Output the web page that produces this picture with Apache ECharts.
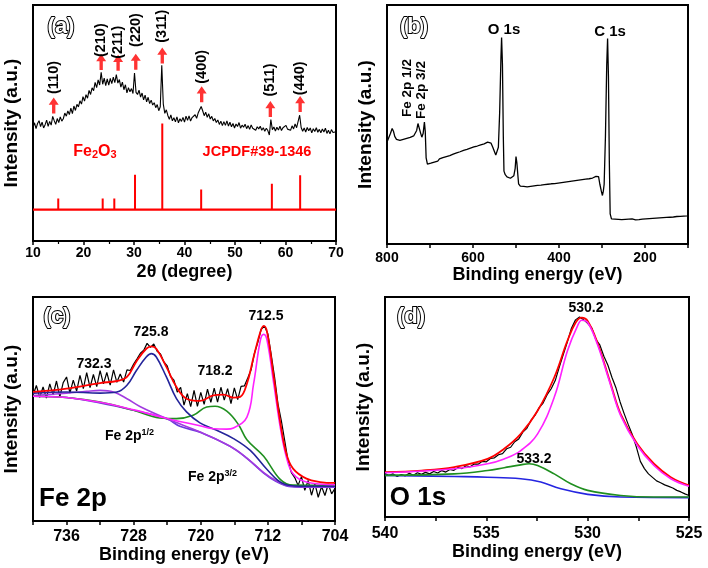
<!DOCTYPE html>
<html><head><meta charset="utf-8">
<script src="https://cdn.jsdelivr.net/npm/echarts@6/dist/echarts.min.js"></script>
<style>html,body{margin:0;padding:0;background:#fff}#c{width:708px;height:568px}</style>
</head><body><div id="c"></div>
<script>
// ---------- (a) XRD ----------
const xrdStart = 10, xrdStep = 0.3;
const xrdIntensity = [
48.2,50.1,47.6,49.8,51.0,48.5,50.4,47.9,49.3,51.2,
48.6,50.7,49.1,52.8,51.0,49.4,51.9,50.2,52.6,50.8,
51.8,54.2,52.9,55.1,53.6,56.3,54.0,57.2,55.3,57.9,
56.8,59.4,58.0,61.2,59.3,62.0,60.5,63.8,62.1,64.9,
63.7,67.2,65.0,68.3,66.1,71.5,66.4,69.0,65.8,68.7,
66.0,68.9,66.7,69.4,67.1,70.5,66.9,68.4,65.2,67.3,
64.1,66.2,62.8,65.0,63.2,64.6,62.5,71.2,63.0,62.1,
63.9,61.0,62.7,59.8,61.8,59.0,60.9,58.2,59.7,57.6,
58.6,56.5,57.8,55.2,56.9,74.5,58.0,54.1,55.6,53.2,
51.6,53.4,50.9,52.2,50.5,52.6,50.1,51.8,50.7,52.4,
50.4,52.9,51.1,53.0,50.8,52.3,51.6,53.5,52.0,54.2,
54.8,57.0,55.2,53.1,54.6,52.4,53.9,51.7,52.8,50.9,
51.9,50.2,51.3,49.4,50.8,48.9,50.6,49.0,50.9,48.7,
50.3,48.4,49.8,47.9,49.6,48.5,50.2,47.8,49.1,48.2,
49.5,47.6,48.9,47.3,49.2,47.8,48.6,46.9,48.4,47.5,
48.6,46.9,48.0,46.5,47.8,46.8,44.9,51.5,47.2,48.3,
46.6,48.2,47.0,48.6,46.8,48.0,47.3,49.0,47.4,48.1,
46.9,48.8,47.5,49.6,48.0,50.7,53.3,48.1,46.5,47.9,
46.2,48.1,46.7,47.9,45.8,47.6,46.4,48.0,46.1,47.3,
45.9,47.5,46.2,47.8,45.6,46.9,45.4,47.2,46.0,46.8,
46.3];
const refPeak2Theta = [15.0, 23.8, 26.1, 30.2, 35.6, 43.3, 57.3, 62.9];
const refPeakTop    = [18.0, 18.0, 18.0, 28.1, 49.8, 21.8, 24.3, 27.9];
const refBaseline = 13.3;
const hklLabels = ['(110)','(210)','(211)','(220)','(311)','(400)','(511)','(440)'];
const hklArrow2Theta = [14.1, 23.5, 26.85, 30.35, 35.6, 43.4, 57.0, 62.9];
const hklArrowY = [57.4, 75.8, 75.5, 76.0, 78.6, 62.2, 55.9, 58.0];
const hklLabelY = [69.3, 85.1, 84.2, 89.4, 91.0, 73.8, 68.2, 68.9];

// ---------- (b) XPS survey ----------
const surveyBE = [800,796,792,788,785,782,778,774,770,766,762,758,754,750,746,742,738,734,731,728,725,722,719,716,713,711,709,706,702,698,694,690,686,682,678,674,670,666,662,658,654,650,646,642,638,634,630,626,622,618,614,610,606,602,598,594,590,586,582,578,574,570,566,562,558,554,550,547,544,541,538,535,533.5,531.5,529.5,528,525,521,517,513,509,505,502,500,498,496,494,490,486,482,478,474,470,466,462,458,454,450,446,442,438,434,430,426,422,418,414,410,406,402,398,394,390,386,382,378,374,370,366,362,358,354,350,346,342,338,334,330,326,322,318,314,311,308,305,302,299,297,295,292,289,287,285,283,281,278,274,270,266,262,258,254,250,246,242,238,234,230,226,222,218,214,210,206,202,198,194,190,186,182,178,174,170,166,162,158,154,150,146,142,138,134,130,126,122,118,114,110,106,102,100];
const surveyI = [42.7,44.5,46.2,48.3,47.2,45.0,43.8,43.2,43.4,42.9,43.8,43.4,44.2,43.9,44.6,44.3,45.2,46.0,47.5,50.4,49.8,46.5,44.7,46.2,51.0,47.0,36.0,33.4,34.1,33.8,34.6,34.3,35.0,34.7,35.6,35.3,36.1,35.8,36.6,36.2,37.0,36.8,37.6,37.3,38.1,37.9,38.6,38.4,39.2,38.9,39.6,39.4,40.1,39.8,40.6,40.3,41.0,40.8,41.5,41.3,41.9,41.8,42.6,42.9,42.2,40.5,38.6,37.2,37.0,40.5,55.0,78.0,86.4,75.0,45.0,30.5,29.0,28.1,27.8,27.5,27.6,28.6,31.5,36.6,34.0,29.5,25.2,24.2,24.5,24.1,24.3,23.9,24.4,24.1,24.6,24.3,24.8,24.5,24.9,24.6,25.1,24.8,25.3,25.0,25.4,25.2,25.6,25.3,25.8,25.5,26.0,25.7,26.1,25.9,26.4,26.1,26.5,26.3,26.8,26.5,26.9,26.7,27.2,26.9,27.3,27.1,27.5,27.3,27.7,27.6,28.0,28.3,28.9,28.2,25.0,22.5,20.3,22.0,25.0,45.0,75.0,86.0,70.0,35.0,12.6,10.5,10.2,10.4,10.0,10.3,9.9,10.2,10.0,10.3,10.1,10.4,10.2,10.5,10.3,10.1,10.4,10.2,10.6,10.4,10.7,10.5,10.8,10.6,10.9,10.7,11.0,10.8,11.1,10.9,11.2,11.0,11.3,11.1,11.4,11.2,11.5,11.3,11.6,11.5,11.7,11.6,11.8,11.7,11.9,11.8,11.9];

// ---------- (c) Fe 2p ----------
const fe2pStart = 740, fe2pStep = -0.4;
const fe2pMeasured = [
56.0,60.5,55.2,59.8,54.9,61.2,56.3,62.5,55.4,61.8,
64.3,57.1,62.9,58.0,65.0,59.1,66.2,59.6,65.4,60.0,
67.1,61.2,66.3,60.7,67.5,61.9,65.6,62.0,67.5,67.2,
70.1,72.4,74.9,76.2,79.3,77.5,79.0,75.8,74.6,71.0,
69.2,64.5,62.9,57.5,59.7,51.7,56.9,51.1,58.3,51.2,
57.4,52.1,58.9,53.0,59.3,53.1,59.7,54.0,59.1,52.4,
59.4,54.2,60.1,60.3,63.8,67.5,74.9,79.8,85.6,87.0,
83.5,74.2,64.1,52.3,44.8,36.0,26.9,21.6,19.4,15.9,
19.8,13.7,18.1,11.5,16.8,10.6,15.4,11.4,16.5,12.1,
14.6];
const fe2pEnvelope = [[740,57.6],[736,59.1],[732,61.6],[730,62.5],[728.8,64.3],[727.6,71.7],[726.5,76.9],[725.9,78.0],[725.3,76.9],[724.1,68.8],[722.9,59.8],[721.7,54.6],[720.1,53.6],[718.5,56.1],[717.3,56.4],[716.1,55.1],[715.3,55.4],[714.5,61.3],[713.7,73.2],[712.9,84.4],[712.5,87.1],[712.1,84.4],[711.3,64.3],[710.5,43.5],[709.8,30.1],[709.0,23.4],[707.4,18.9],[705.8,17.4],[704,17.0]];
const fe2pPeak712 = [[740,55.7],[736,55.1],[732,53.0],[728,49.6],[724,45.8],[720.1,42.5],[718.5,41.2],[716.9,41.0],[716.1,41.5],[714.5,46.4],[713.7,61.3],[712.9,80.7],[712.5,83.3],[712.1,80.7],[711.3,61.3],[710.5,41.2],[709.8,28.6],[709.0,21.1],[707.4,17.4],[704,16.2]];
const fe2pPeak726 = [[740,57.1],[736,57.6],[732,57.1],[730,57.6],[728.8,60.6],[727.65,67.3],[726.5,73.2],[725.9,74.7],[725.3,73.2],[724.1,64.3],[722.9,54.6],[721.7,48.7],[720.1,43.8],[718.1,40.5],[716.1,36.8],[714.1,31.5],[712.1,23.0],[710.2,16.7],[708.2,15.5],[704,15.5]];
const fe2pPeak732 = [[740,56.0],[736,57.1],[733.6,57.9],[732,58.3],[730.4,57.6],[728.8,54.6],[727.2,51.0],[724,45.6],[720,39.6],[716.5,33.4],[714.5,28.1],[712.5,21.6],[711,18.0],[709.5,15.7],[708,15.3],[704,15.3]];
const fe2pPeak718 = [[740,55.7],[736,55.1],[732,53.1],[728,49.4],[724.9,46.0],[722.9,45.7],[720.9,47.2],[719.3,50.9],[718.3,51.2],[716.9,49.0],[715.5,43.0],[714.5,36.3],[712.5,28.9],[710.5,18.5],[709,16.0],[704,15.9]];
const fe2pBackground = [[740,55.7],[736,55.1],[732,52.7],[728,49.4],[724,45.5],[722.5,42.3],[720,39.5],[716.5,33.3],[714.5,28.0],[712.5,21.4],[711,17.6],[709.5,15.4],[708,15.1],[704,15.1]];

// ---------- (d) O 1s ----------
const o1sStart = 540, o1sStep = -0.2;
const o1sMeasured = [
19.8,18.9,19.6,18.4,19.3,18.7,19.9,19.0,20.1,19.4,
20.3,19.6,20.7,20.0,21.1,20.4,21.6,21.2,22.5,22.0,
23.3,22.8,24.1,24.0,25.3,25.1,26.6,26.9,28.3,28.8,
31.0,31.7,34.2,35.5,38.6,40.3,43.9,46.2,49.6,51.8,
55.6,58.3,62.0,68.1,73.9,79.6,85.8,89.6,90.9,89.7,
88.0,85.9,80.8,78.2,73.1,69.0,63.4,58.6,52.3,47.0,
42.1,37.5,31.9,25.3,22.0,19.6,18.0,16.4,15.6,14.6,
13.9,13.2,12.1,11.4,10.5,9.8];
const o1sEnvelope = [[540,20.4],[538.2,21.1],[536.58,22.7],[534.94,26.4],[534.12,31.0],[533.3,37.8],[532.47,48.3],[531.65,63.4],[531,80.1],[530.59,88.4],[530.29,90.6],[530,89.1],[529.52,79.3],[528.86,60.4],[528.37,46.8],[527.55,33.2],[526.73,24.2],[525.9,18.1],[525,14.4]];
const o1sPeak530 = [[540,20.1],[536.58,21.9],[534.94,24.2],[534.12,26.4],[533.3,30.2],[532.47,37.8],[531.65,54.4],[531,75.5],[530.5,86.9],[530.29,89.4],[530,88.4],[529.52,78.5],[528.86,59.7],[528.37,46.1],[527.55,32.5],[526.73,23.4],[525.9,17.4],[525,14.0]];
const o1sPeak533 = [[540,18.9],[536.58,19.6],[534.94,21.1],[534.12,22.4],[533.3,23.7],[532.89,24.2],[532.47,23.4],[531.65,19.6],[530.83,15.1],[530,12.1],[528.37,9.8],[526.73,9.1],[525,9.1]];
const o1sBackground = [[540,18.9],[536.58,18.4],[534.94,18.1],[533.3,17.4],[532.31,15.9],[531.32,12.8],[530,10.3],[528.37,9.1],[525,8.8]];

// ---------- build ----------
const FONT = 'Arial, "Liberation Sans", Helvetica, sans-serif';
const xrdData = xrdIntensity.map((v, i) => [+(xrdStart + i * xrdStep).toFixed(2), v]);
const stickData = [];
refPeak2Theta.forEach((x, i) => { stickData.push([x, refBaseline], [x, refPeakTop[i]], [x, '-']); });
const surveyData = surveyBE.map((x, i) => [x, surveyI[i]]);
const fe2pData = fe2pMeasured.map((v, i) => [+(fe2pStart + i * fe2pStep).toFixed(2), v]);
const o1sData = o1sMeasured.map((v, i) => [+(o1sStart + i * o1sStep).toFixed(2), v]);

const grids = [
  {left: 33, right: 372, top: 5, bottom: 327},
  {left: 387, right: 20, top: 5, bottom: 324},
  {left: 33, right: 373, top: 297, bottom: 47},
  {left: 385, right: 19, top: 297, bottom: 51}
].map(g => Object.assign({show: true, borderColor: '#000', borderWidth: 2, backgroundColor: 'transparent'}, g));

function xAx(idx, o) {
  return Object.assign({
    gridIndex: idx, type: 'value', splitLine: {show: false},
    axisLine: {show: true, onZero: false, lineStyle: {color: '#000', width: 2}},
    axisTick: {show: true, inside: false, length: 4, lineStyle: {color: '#000', width: 1.5}},
    axisLabel: {color: '#000', fontWeight: 'bold', fontFamily: FONT, fontSize: 14, margin: 6},
    nameLocation: 'middle',
    nameTextStyle: {color: '#000', fontWeight: 'bold', fontFamily: FONT, fontSize: 18}
  }, o);
}
function yAx(idx, gap) {
  return {
    gridIndex: idx, type: 'value', min: 0, max: 100,
    axisLine: {show: false}, axisTick: {show: false}, axisLabel: {show: false}, splitLine: {show: false},
    name: 'Intensity (a.u.)', nameLocation: 'middle', nameGap: gap,
    nameTextStyle: {color: '#000', fontWeight: 'bold', fontFamily: FONT, fontSize: 19}
  };
}

const xAxes = [
  xAx(0, {min: 10, max: 70, interval: 10, name: '2θ (degree)', nameGap: 22,
          minorTick: {show: true, splitNumber: 2, length: 3, lineStyle: {color: '#000', width: 1.2}},
          axisLabel: {color: '#000', fontWeight: 'bold', fontFamily: FONT, fontSize: 14, margin: 5}}),
  xAx(1, {min: 100, max: 800, interval: 100, inverse: true, name: 'Binding energy (eV)', nameGap: 22,
          axisLabel: {color: '#000', fontWeight: 'bold', fontFamily: FONT, fontSize: 14, margin: 7,
                      formatter: v => (v % 200 === 0 ? String(v) : '')}}),
  xAx(2, {min: 704, max: 740, interval: 4, inverse: true, name: 'Binding energy (eV)', nameGap: 21,
          axisLabel: {color: '#000', fontWeight: 'bold', fontFamily: FONT, fontSize: 16, margin: 8,
                      formatter: v => (v % 8 === 0 ? String(v) : '')}}),
  xAx(3, {min: 525, max: 540, interval: 2.5, inverse: true, name: 'Binding energy (eV)', nameGap: 24,
          axisLabel: {color: '#000', fontWeight: 'bold', fontFamily: FONT, fontSize: 16, margin: 9,
                      formatter: v => (v % 5 === 0 ? String(v) : '')}})
];
const yAxes = [yAx(0, 12), yAx(1, 12), yAx(2, 12), yAx(3, 12)];

function ln(idx, data, color, width, smooth, z) {
  return {type: 'line', xAxisIndex: idx, yAxisIndex: idx, data, showSymbol: false, symbol: 'none',
          smooth: smooth || false, lineStyle: {color, width}, z: z || 2, animation: false, silent: true};
}

const series = [
  ln(0, xrdData, '#000', 1.1),
  ln(0, [[10, refBaseline], [70, refBaseline]], '#ff0000', 2.2),
  ln(0, stickData, '#ff0000', 2),
  {type: 'scatter', xAxisIndex: 0, yAxisIndex: 0, z: 5, animation: false, silent: true,
   data: hklArrow2Theta.map((x, i) => [x, hklArrowY[i]]),
   symbol: 'path://M6,0 L12,9 L8,9 L8,20 L4,20 L4,9 L0,9 Z', symbolSize: [10, 16],
   itemStyle: {color: '#ff0000'}},
  {type: 'scatter', xAxisIndex: 0, yAxisIndex: 0, z: 6, animation: false, silent: true,
   data: hklArrow2Theta.map((x, i) => [x, hklLabelY[i]]), symbolSize: 0.1,
   itemStyle: {color: '#000', opacity: 1},
   label: {show: true, position: 'inside', rotate: 90, color: '#000', opacity: 1, textBorderWidth: 0,
           fontFamily: FONT, fontSize: 14.5, fontWeight: 'bold', formatter: p => hklLabels[p.dataIndex]}},
  ln(1, surveyData, '#000', 1.3),
  ln(2, fe2pData, '#000', 1.2, false, 2),
  ln(2, fe2pBackground, '#6a3bdc', 1.6, 0.4, 3),
  ln(2, fe2pPeak732, '#a23be0', 1.6, 0.4, 3),
  ln(2, fe2pPeak718, '#1f8f1f', 1.6, 0.4, 3),
  ln(2, fe2pPeak726, '#24249a', 1.6, 0.4, 3),
  ln(2, fe2pPeak712, '#ff22ff', 1.6, 0.4, 4),
  ln(2, fe2pEnvelope, '#ff0000', 1.8, 0.4, 5),
  ln(3, o1sData, '#000', 1.2, false, 2),
  ln(3, o1sBackground, '#2525e0', 1.6, 0.4, 3),
  ln(3, o1sPeak533, '#1f8f1f', 1.6, 0.4, 3),
  ln(3, o1sEnvelope, '#ff0000', 1.8, 0.4, 4),
  ln(3, o1sPeak530, '#ff22ff', 1.6, 0.4, 5)
];

function T(text, x, y, opt) {
  opt = opt || {};
  return {type: 'text', x, y, rotation: opt.rot || 0, z: 100, silent: true,
    style: Object.assign({text, fill: opt.color || '#000', textAlign: opt.align || 'center', align: opt.align || 'center',
      textVerticalAlign: 'middle', verticalAlign: 'middle',
      font: (opt.weight || 'bold') + ' ' + (opt.size || 14) + 'px ' + FONT}, opt.style || {})};
}
function panelLetter(t, x, y) {
  return T(t, x, y, {size: 22, color: '#fff', style: {stroke: '#000', lineWidth: 2}});
}
const supRich = (c) => ({
  a: {fontSize: 14, fontWeight: 'bold', fontFamily: FONT, fill: c, color: c},
  s: {fontSize: 9, fontWeight: 'bold', fontFamily: FONT, fill: c, color: c, verticalAlign: 'top', padding: [0, 0, 6, 0]},
  b: {fontSize: 11, fontWeight: 'bold', fontFamily: FONT, fill: c, color: c, verticalAlign: 'bottom', padding: [6, 0, 0, 0]},
  f: {fontSize: 16, fontWeight: 'bold', fontFamily: FONT, fill: c, color: c}
});

const graphics = [
  panelLetter('(a)', 61, 27),
  T('{f|Fe}{b|2}{f|O}{b|3}', 95, 152, {color: '#ff0000', style: {rich: supRich('#ff0000')}}),
  T('JCPDF#39-1346', 257, 152, {size: 14.5, color: '#ff0000'}),
  panelLetter('(b)', 414, 27),
  T('O 1s', 504, 30, {size: 15}),
  T('C 1s', 610, 32, {size: 15}),
  T('Fe 2p 1/2', 407, 88, {size: 13.5, rot: Math.PI / 2}),
  T('Fe 2p 3/2', 421, 90, {size: 13.5, rot: Math.PI / 2}),
  panelLetter('(c)', 57, 317),
  T('725.8', 151, 332), T('732.3', 94, 364), T('718.2', 215, 371), T('712.5', 266, 316),
  T('{a|Fe 2p}{s|1/2}', 105, 436, {align: 'left', style: {rich: supRich('#000')}}),
  T('{a|Fe 2p}{s|3/2}', 188, 477, {align: 'left', style: {rich: supRich('#000')}}),
  T('Fe 2p', 73, 499, {size: 26}),
  panelLetter('(d)', 411, 317),
  T('530.2', 586, 308), T('533.2', 534, 459),
  T('O 1s', 418, 498, {size: 26})
];

const chart = echarts.init(document.getElementById('c'), null, {renderer: 'canvas'});
chart.setOption({
  animation: false, backgroundColor: '#fff',
  grid: grids, xAxis: xAxes, yAxis: yAxes, series, graphic: graphics
});
</script></body></html>
